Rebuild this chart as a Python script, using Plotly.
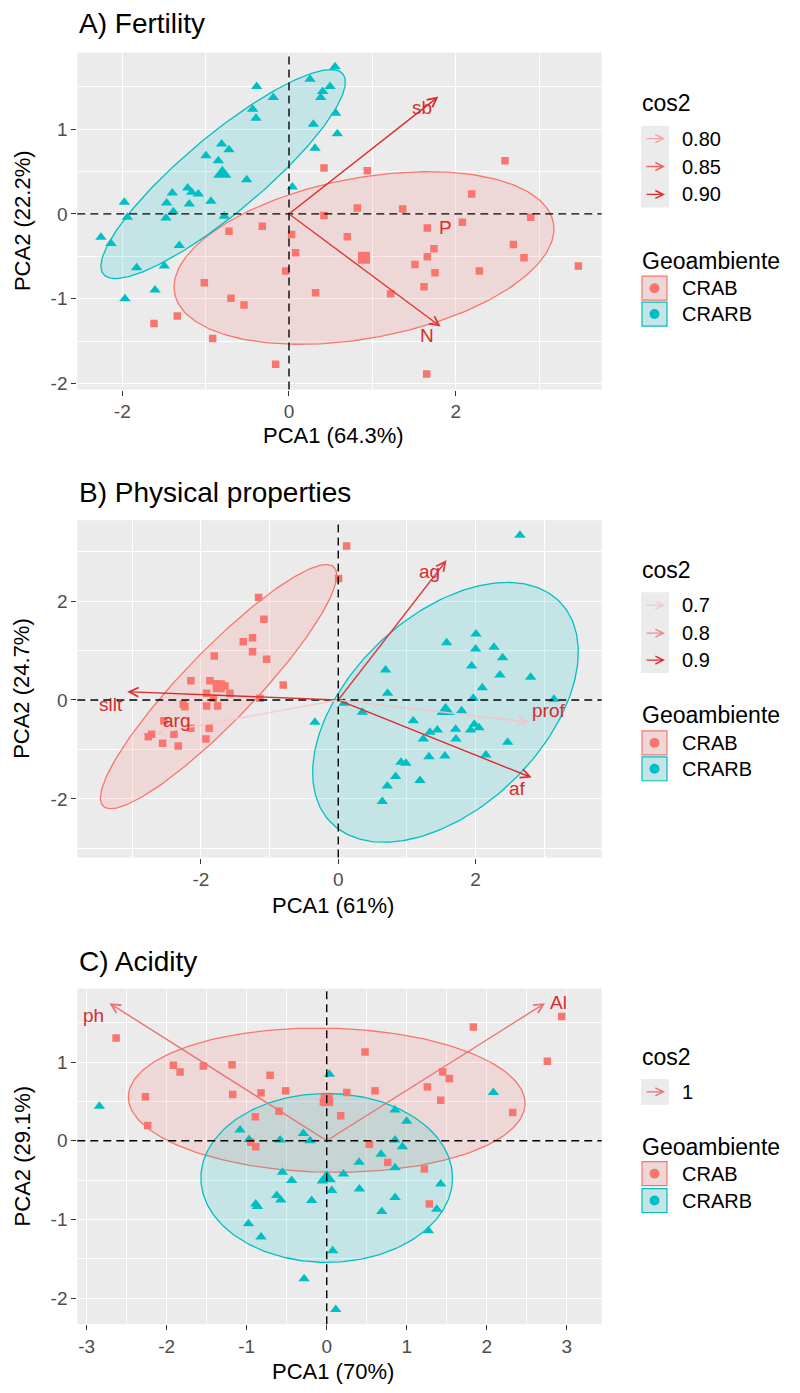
import numpy as np
import plotly.graph_objects as go

W, H = 800, 1393
FONT = "Liberation Sans, Arial, sans-serif"
RED, CYAN = "#F8766D", "#00BFC4"
PANEL_BG = "#EBEBEB"

# ---------------- Panel A: Fertility ----------------
a_crab_x = [2.592, 0.420, 0.940, 2.192, 0.820, 1.364, 0.420, 2.900, 2.080, -0.320, 1.660, -0.720,
            0.032, 0.700, 2.692, 1.740, 0.080, 1.660, 2.820, 1.512, 3.472, -0.040, 2.284, 1.752,
            -1.016, 1.620, 0.320, 1.220, -0.696, -0.540, -1.340, -1.620, -0.916, -0.160, 1.652]
a_crab_y = [0.627, 0.541, 0.510, 0.235, 0.071, 0.059, -0.020, -0.039, -0.098, -0.145, -0.165, -0.204,
            -0.243, -0.271, -0.361, -0.412, -0.459, -0.506, -0.518, -0.596, -0.616, -0.675, -0.675, -0.694,
            -0.812, -0.859, -0.929, -0.941, -0.996, -1.075, -1.204, -1.294, -1.471, -1.773, -1.890]
a_crarb_x = [0.552, 0.252, -0.388, 0.492, 0.404, -0.188, 0.380, -0.436, 0.560, -0.396, 0.292, 0.580,
             -0.808, -0.720, 0.312, -0.996, -0.848, -0.508, 0.040, -1.216, -1.168, -1.088, -1.400,
             -1.976, -1.468, -1.196, -0.936, -1.388, -1.940, -1.476, -0.776, -2.256, -2.136, -1.316,
             -1.828, -1.496, -1.608, -1.968]
a_crarb_y = [1.737, 1.588, 1.502, 1.502, 1.443, 1.373, 1.373, 1.235, 1.188, 1.129, 1.059, 0.945,
             0.824, 0.757, 0.776, 0.686, 0.627, 0.404, 0.318, 0.306, 0.255, 0.235, 0.247,
             0.137, 0.129, 0.118, 0.149, 0.024, -0.039, -0.047, -0.027, -0.275, -0.349, -0.373,
             -0.635, -0.616, -0.898, -1.000]
a_centroids = {"CRAB": (0.90, -0.518), "CRARB": (-0.80, 0.475)}
# ellipse: centre x, centre y, semi-major, semi-minor, rotation (deg)
a_ellipses = {"CRAB": (0.90, -0.52, 2.31, 0.946, 10.3), "CRARB": (-0.79, 0.47, 1.86, 0.46, 39.4)}
a_vars = ["sb", "N"]
a_var_x = [1.792, 1.820]
a_var_y = [1.384, -1.330]
a_var_cos2 = [0.91, 0.89]
a_labels = ["sb", "P", "N"]
a_label_x = [1.59, 1.88, 1.66]
a_label_y = [1.25, -0.165, -1.44]
a_cos2_breaks = ["0.80", "0.85", "0.90"]
a_cos2_colors = ["#F2A3A3", "#EC6565", "#DC2B2B"]

# ---------------- Panel B: Physical properties ----------------
b_crab_x = [0.121, 0.005, -1.160, -1.083, -1.248, -1.383, -1.248, -1.806, -1.044, -2.146, -0.801,
            -1.869, -1.772, -1.699, -1.650, -1.723, -1.578, -1.917, -1.820, -1.141, -2.257, -2.233,
            -1.917, -1.757, -2.539, -2.146, -1.879, -2.718, -2.767, -2.393, -1.927, -2.558, -2.330]
b_crab_y = [3.111, 2.458, 2.074, 1.630, 1.259, 1.178, 0.976, 0.889, 0.822, 0.391, 0.303,
            0.391, 0.323, 0.303, 0.283, 0.236, 0.135, 0.135, 0.034, 0.034, -0.088, -0.135,
            -0.121, -0.121, -0.418, -0.572, -0.572, -0.694, -0.741, -0.694, -0.788, -0.875, -0.929]
b_crarb_x = [2.646, 2.005, 1.578, 2.000, 2.267, 2.393, 1.942, 0.689, 2.354, 2.801, 2.097, 0.718,
             1.966, 3.141, 0.083, 0.350, 1.796, 1.092, 1.442, 1.335, 1.709, 1.927, 1.981, 2.049,
             1.238, 1.714, 2.466, -0.340, 1.320, 1.553, 2.150, 0.913, 0.985, 0.835, 1.189, 0.714, 0.641]
b_crarb_y = [3.333, 1.333, 1.158, 1.030, 1.064, 0.855, 0.687, 0.606, 0.505, 0.458, 0.249, 0.135,
             0.034, 0.013, -0.067, -0.249, -0.215, -0.418, -0.606, -0.653, -0.593, -0.606, -0.492, -0.559,
             -0.788, -0.788, -0.855, -0.451, -1.145, -1.131, -1.111, -1.259, -1.279, -1.549, -1.630, -1.737, -2.054]
b_centroids = {"CRAB": (-1.74, 0.28), "CRARB": (1.563, -0.222)}
b_ellipses = {"CRAB": (-1.743, 0.27, 2.95, 0.59, 56.0), "CRARB": (1.561, -0.249, 2.856, 1.575, 61.9)}
b_vars = ["ag", "af", "prof", "silt", "arg"]
b_var_x = [1.578, 2.816, 2.782, -3.073, -2.655]
b_var_y = [2.828, -1.569, -0.451, 0.168, -0.673]
b_var_cos2 = [0.88, 0.90, 0.71, 0.92, 0.69]
b_labels = ["ag", "af", "prof", "silt", "arg"]
b_label_x = [1.335, 2.607, 3.058, -3.316, -2.354]
b_label_y = [2.593, -1.798, -0.222, -0.088, -0.424]
b_cos2_breaks = ["0.7", "0.8", "0.9"]
b_cos2_colors = ["#F5CACA", "#EE8A8A", "#DC2B2F"]

# ---------------- Panel C: Acidity ----------------
c_crab_x = [-2.633, 1.833, 0.479, -1.917, 2.758, -1.542, -1.183, -1.833, 1.450, -0.708, 1.533, 1.258,
            -2.267, -1.175, -0.821, -0.513, 0.604, 0.250, 0.000, 0.033, -0.042, 1.425, 2.325, -0.596,
            0.175, -0.892, -2.238, 2.938, -0.950, -0.888, 0.533, 0.763, 1.221, 1.283]
c_crab_y = [1.305, 1.445, 1.128, 0.959, 1.010, 0.951, 0.967, 0.875, 0.875, 0.832, 0.790, 0.684,
            0.558, 0.587, 0.608, 0.634, 0.634, 0.613, 0.545, 0.494, 0.494, 0.515, 0.359, 0.376,
            0.317, 0.304, 0.194, 1.580, -0.020, -0.076, -0.046, -0.275, -0.359, -0.803]
c_crarb_x = [-2.842, 0.033, 2.083, 0.854, 1.000, -1.083, -0.292, -0.971, -0.583, -0.208, 0.854, 0.946,
             0.679, 0.404, 0.854, 0.208, -0.554, -0.438, -0.054, 0.063, 0.408, 1.425, -0.625, -0.575,
             -0.188, 0.854, -0.888, -0.867, 0.688, 1.375, -0.979, -0.821, 1.271, 0.075, -0.283, 0.113]
c_crarb_y = [0.439, 0.845, 0.613, 0.389, 0.249, 0.135, 0.093, 0.017, 0.008, 0.000, 0.008, -0.076,
             -0.173, -0.275, -0.342, -0.422, -0.401, -0.507, -0.511, -0.634, -0.613, -0.549, -0.697, -0.752,
             -0.760, -0.722, -0.803, -0.837, -0.900, -0.870, -1.056, -1.225, -1.145, -1.398, -1.753, -2.146]
c_centroids = {"CRAB": (0.0, 0.515), "CRARB": (0.0, -0.477)}
c_ellipses = {"CRAB": (0.0, 0.515, 2.48, 0.916, -1.1), "CRARB": (0.0, -0.473, 1.573, 1.073, 0.0)}
c_vars = ["ph", "Al"]
c_var_x = [-2.717, 2.729]
c_var_y = [1.749, 1.749]
c_var_cos2 = [1.0, 1.0]
c_labels = ["ph", "Al"]
c_label_x = [-2.917, 2.896]
c_label_y = [1.593, 1.762]
c_cos2_breaks = ["1"]
c_cos2_colors = ["#EA7272"]

LABEL_RED = "#D92B2B"


def hex_to_rgb(h):
    h = h.lstrip("#")
    return np.array([int(h[i:i + 2], 16) for i in (0, 2, 4)], dtype=float)


def cos2_color(v, breaks, colors):
    vals = [float(b) for b in breaks]
    if len(vals) == 1:
        return colors[0]
    rgb = np.array([hex_to_rgb(c) for c in colors])
    out = [np.interp(v, vals, rgb[:, k]) for k in range(3)]
    return "#%02X%02X%02X" % tuple(int(round(c)) for c in out)


def rgba(hexcol, a):
    r, g, b = hex_to_rgb(hexcol)
    return f"rgba({int(r)},{int(g)},{int(b)},{a})"


def ellipse_xy(cx, cy, a, b, ang):
    t = np.linspace(0, 2 * np.pi, 241)
    th = np.deg2rad(ang)
    x = cx + a * np.cos(t) * np.cos(th) - b * np.sin(t) * np.sin(th)
    y = cy + a * np.cos(t) * np.sin(th) + b * np.sin(t) * np.cos(th)
    return x, y


def px(xp):
    return xp / W


def py(yp):
    return 1 - yp / H


fig = go.Figure()
shapes = []
annotations = []

panels = [
    dict(ax="x", ay="y", crab=(a_crab_x, a_crab_y), crarb=(a_crarb_x, a_crarb_y), cent=a_centroids,
         ell=a_ellipses, vars=(a_var_x, a_var_y, a_var_cos2), labels=(a_labels, a_label_x, a_label_y),
         breaks=a_cos2_breaks, colors=a_cos2_colors,
         title="A) Fertility", xt="PCA1 (64.3%)", yt="PCA2 (22.2%)",
         top=52.7, bottom=390.7, title_y=24, xt_y=437,
         xr=[-2.540, 3.752], yr=[-2.073, 1.904], xticks=[-2, 0, 2], yticks=[-2, -1, 0, 1],
         xminor=1.0, yminor=0.5, leg_title_y=103, leg_rows=[139, 167, 195], geo_y=262, geo_rows=[289, 315]),
    dict(ax="x2", ay="y2", crab=(b_crab_x, b_crab_y), crarb=(b_crarb_x, b_crarb_y), cent=b_centroids,
         ell=b_ellipses, vars=(b_var_x, b_var_y, b_var_cos2), labels=(b_labels, b_label_x, b_label_y),
         breaks=b_cos2_breaks, colors=b_cos2_colors,
         title="B) Physical properties", xt="PCA1 (61%)", yt="PCA2 (24.7%)",
         top=521.7, bottom=860.0, title_y=494, xt_y=908,
         xr=[-3.80, 3.836], yr=[-3.185, 3.635], xticks=[-2, 0, 2], yticks=[-2, 0, 2],
         xminor=1.0, yminor=1.0, leg_title_y=572, leg_rows=[607, 635, 662], geo_y=717, geo_rows=[745, 771]),
    dict(ax="x3", ay="y3", crab=(c_crab_x, c_crab_y), crarb=(c_crarb_x, c_crarb_y), cent=c_centroids,
         ell=c_ellipses, vars=(c_var_x, c_var_y, c_var_cos2), labels=(c_labels, c_label_x, c_label_y),
         breaks=c_cos2_breaks, colors=c_cos2_colors,
         title="C) Acidity", xt="PCA1 (70%)", yt="PCA2 (29.1%)",
         top=991.5, bottom=1328.0, title_y=964, xt_y=1375,
         xr=[-3.118, 3.4375], yr=[-2.332, 1.933], xticks=[-3, -2, -1, 0, 1, 2, 3], yticks=[-2, -1, 0, 1],
         xminor=0.5, yminor=0.5, leg_title_y=1060, leg_rows=[1095], geo_y=1150, geo_rows=[1177, 1204]),
]

LEFT, RIGHT = 77.3, 601.7
XTITLE_X = 333
layout_axes = {}

for i, p in enumerate(panels):
    xa, ya = p["ax"], p["ay"]
    # confidence ellipses
    for grp, col in (("CRAB", RED), ("CRARB", CYAN)):
        ex, ey = ellipse_xy(*p["ell"][grp])
        fig.add_trace(go.Scatter(x=ex, y=ey, mode="lines", fill="toself", fillcolor=rgba(col, 0.16),
                                 line=dict(color=col, width=1.3), xaxis=xa, yaxis=ya, hoverinfo="skip"))
    # reference lines through the origin
    shapes.append(dict(type="line", xref=xa, yref=f"{ya} domain", x0=0, x1=0, y0=0, y1=1,
                       line=dict(color="black", width=1.4, dash="8px,5px")))
    shapes.append(dict(type="line", xref=f"{xa} domain", yref=ya, x0=0, x1=1, y0=0, y1=0,
                       line=dict(color="black", width=1.4, dash="8px,5px")))
    # individuals
    fig.add_trace(go.Scatter(x=p["crab"][0], y=p["crab"][1], mode="markers", xaxis=xa, yaxis=ya,
                             marker=dict(symbol="square", size=7.5, color=RED, line=dict(width=0))))
    fig.add_trace(go.Scatter(x=p["crarb"][0], y=p["crarb"][1], mode="markers", xaxis=xa, yaxis=ya,
                             marker=dict(symbol="triangle-up", size=10, color=CYAN, line=dict(width=0))))
    # group centroids
    fig.add_trace(go.Scatter(x=[p["cent"]["CRAB"][0]], y=[p["cent"]["CRAB"][1]], mode="markers",
                             xaxis=xa, yaxis=ya, marker=dict(symbol="square", size=12, color=RED)))
    fig.add_trace(go.Scatter(x=[p["cent"]["CRARB"][0]], y=[p["cent"]["CRARB"][1]], mode="markers",
                             xaxis=xa, yaxis=ya, marker=dict(symbol="triangle-up", size=16, color=CYAN)))
    # variable arrows
    vx, vy, vc = p["vars"]
    for x1, y1, c2 in zip(vx, vy, vc):
        col = cos2_color(c2, p["breaks"], p["colors"])
        annotations.append(dict(x=x1, y=y1, ax=0, ay=0, xref=xa, yref=ya, axref=xa, ayref=ya,
                                showarrow=True, arrowhead=5, arrowsize=1.3, arrowwidth=1.4,
                                arrowcolor=col, text=""))
    for lab, lx, ly in zip(*p["labels"]):
        annotations.append(dict(x=lx, y=ly, xref=xa, yref=ya, text=lab, showarrow=False,
                                font=dict(family=FONT, size=19, color=LABEL_RED)))

    ydom = [py(p["bottom"]), py(p["top"])]
    axis_common = dict(showgrid=True, gridcolor="white", gridwidth=1.3, zeroline=False,
                       ticks="outside", ticklen=5, tickwidth=1.1, tickcolor="#333333",
                       tickfont=dict(family=FONT, size=19, color="#4D4D4D"), showline=False,
                       fixedrange=True)
    xkey = "xaxis" if i == 0 else f"xaxis{i + 1}"
    ykey = "yaxis" if i == 0 else f"yaxis{i + 1}"
    layout_axes[xkey] = dict(axis_common, domain=[px(LEFT), px(RIGHT)], range=p["xr"], anchor=ya,
                             tickmode="array", tickvals=p["xticks"], ticktext=[str(t) for t in p["xticks"]],
                             minor=dict(showgrid=True, gridcolor="white", gridwidth=0.6,
                                        dtick=p["xminor"], tick0=0, ticks=""))
    layout_axes[ykey] = dict(axis_common, domain=ydom, range=p["yr"], anchor=xa,
                             tickmode="array", tickvals=p["yticks"], ticktext=[str(t) for t in p["yticks"]],
                             minor=dict(showgrid=True, gridcolor="white", gridwidth=0.6,
                                        dtick=p["yminor"], tick0=0, ticks=""))

    # titles
    annotations.append(dict(x=px(77), y=py(p["title_y"]), xref="paper", yref="paper", text=p["title"],
                            showarrow=False, xanchor="left", yanchor="middle",
                            font=dict(family=FONT, size=28, color="black")))
    annotations.append(dict(x=px(XTITLE_X), y=py(p["xt_y"]), xref="paper", yref="paper",
                            text=p["xt"], showarrow=False, xanchor="center", yanchor="middle",
                            font=dict(family=FONT, size=22, color="black")))
    annotations.append(dict(x=px(22), y=py((p["top"] + p["bottom"]) / 2), xref="paper", yref="paper",
                            text=p["yt"], showarrow=False, textangle=-90, xanchor="center", yanchor="middle",
                            font=dict(family=FONT, size=22, color="black")))

    # cos2 legend
    annotations.append(dict(x=px(640), y=py(p["leg_title_y"]), xref="paper", yref="paper", text="cos2",
                            showarrow=False, xanchor="left", yanchor="middle",
                            font=dict(family=FONT, size=23, color="black")))
    rows = p["leg_rows"]
    shapes.append(dict(type="rect", xref="paper", yref="paper", x0=px(641), x1=px(669),
                       y0=py(rows[-1] + 13), y1=py(rows[0] - 13), fillcolor=PANEL_BG, line=dict(width=0)))
    for brk, col, ry in zip(p["breaks"], p["colors"], rows):
        annotations.append(dict(x=px(665), y=py(ry), ax=-20, ay=0, xref="paper", yref="paper",
                                axref="pixel", ayref="pixel", showarrow=True, arrowhead=5,
                                arrowsize=1.2, arrowwidth=1.3, arrowcolor=col, text=""))
        annotations.append(dict(x=px(680), y=py(ry), xref="paper", yref="paper", text=brk,
                                showarrow=False, xanchor="left", yanchor="middle",
                                font=dict(family=FONT, size=20, color="black")))
    # group legend
    annotations.append(dict(x=px(640), y=py(p["geo_y"]), xref="paper", yref="paper", text="Geoambiente",
                            showarrow=False, xanchor="left", yanchor="middle",
                            font=dict(family=FONT, size=23, color="black")))
    for (grp, col), ry in zip((("CRAB", RED), ("CRARB", CYAN)), p["geo_rows"]):
        shapes.append(dict(type="rect", xref="paper", yref="paper", x0=px(642), x1=px(667),
                           y0=py(ry + 12), y1=py(ry - 12), fillcolor=PANEL_BG,
                           line=dict(color=col, width=1.2)))
        shapes.append(dict(type="rect", xref="paper", yref="paper", x0=px(642), x1=px(667),
                           y0=py(ry + 12), y1=py(ry - 12), fillcolor=rgba(col, 0.16),
                           line=dict(width=0)))
        shapes.append(dict(type="circle", xref="paper", yref="paper", x0=px(649.5), x1=px(659.5),
                           y0=py(ry + 5), y1=py(ry - 5), fillcolor=col, line=dict(width=0)))
        annotations.append(dict(x=px(680), y=py(ry), xref="paper", yref="paper", text=grp,
                                showarrow=False, xanchor="left", yanchor="middle",
                                font=dict(family=FONT, size=20, color="black")))

fig.update_layout(width=W, height=H, margin=dict(l=0, r=0, t=0, b=0), paper_bgcolor="white",
                  plot_bgcolor=PANEL_BG, showlegend=False, shapes=shapes, annotations=annotations,
                  font=dict(family=FONT), **layout_axes)

fig.write_html("out.html")
